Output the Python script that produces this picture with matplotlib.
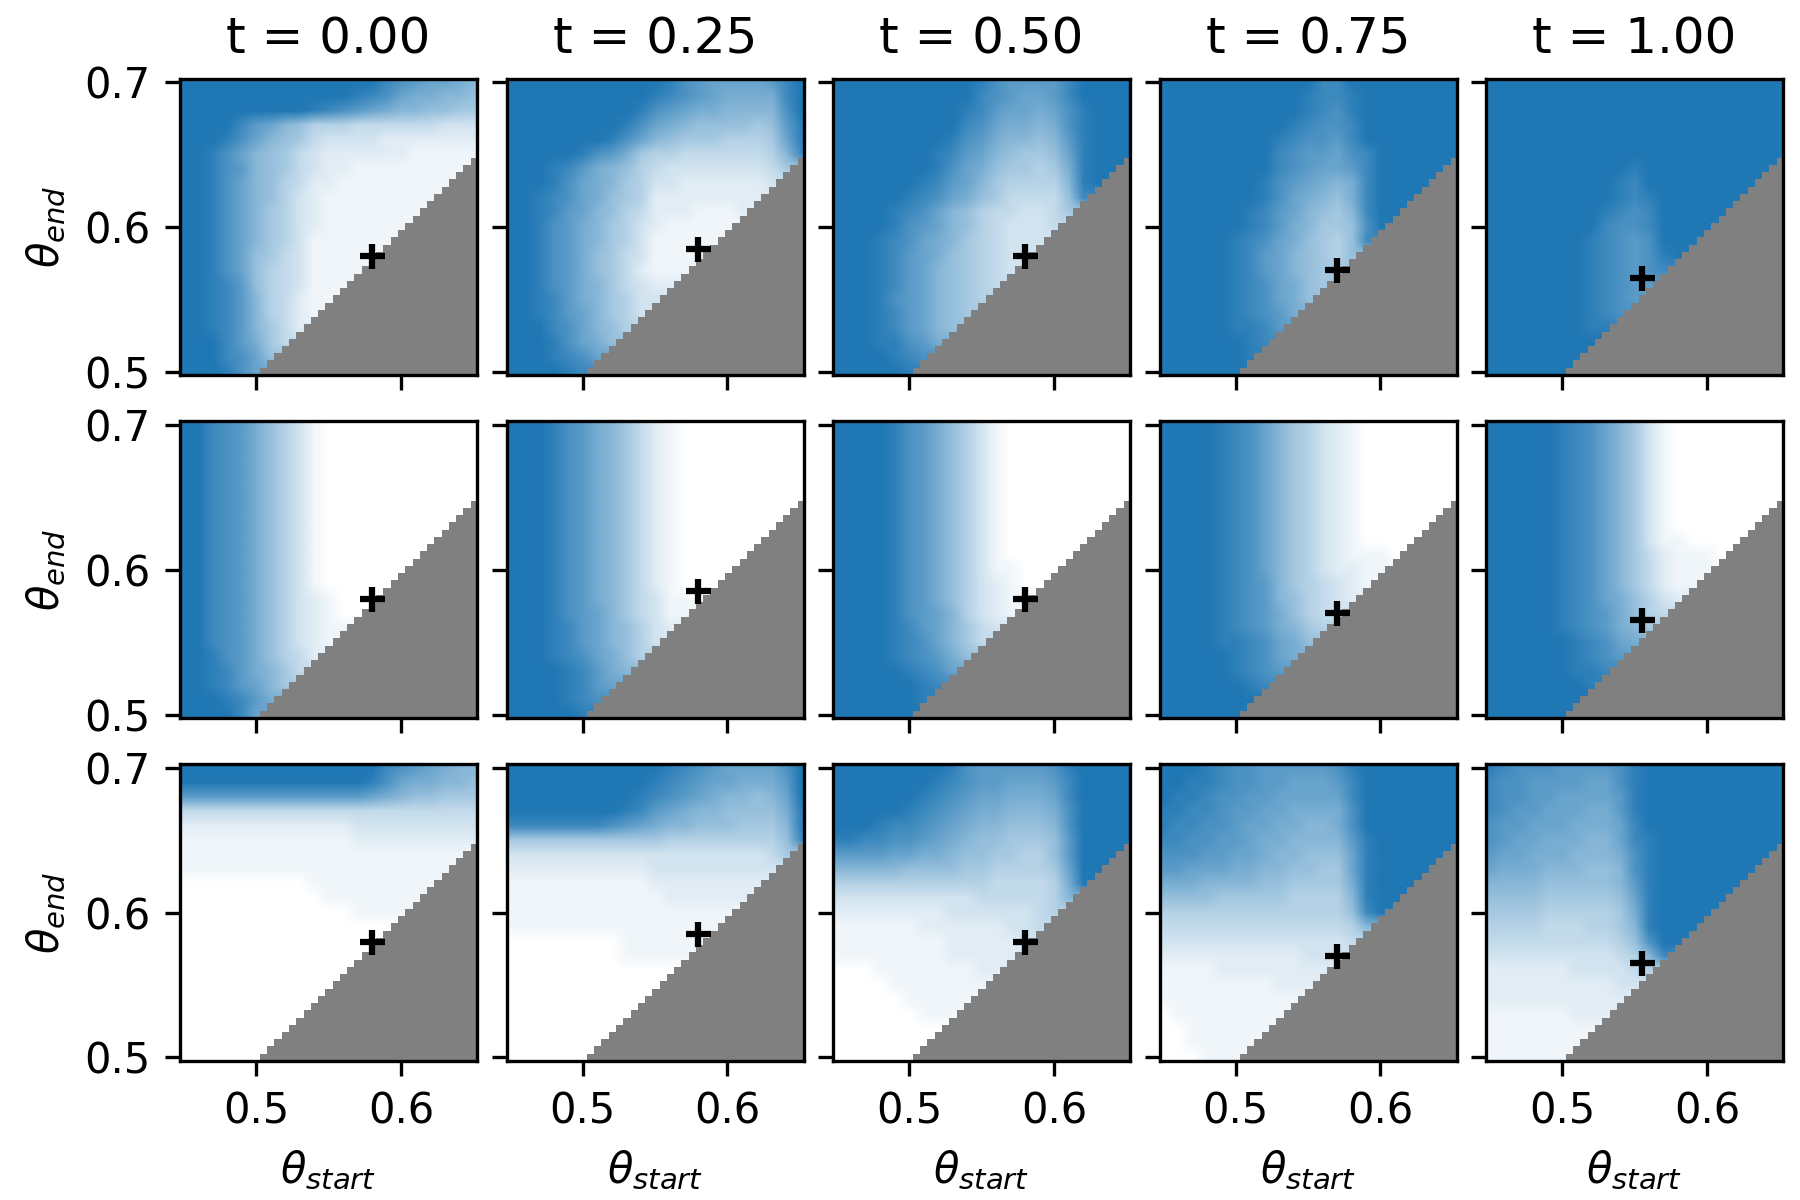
import numpy as np
import matplotlib
matplotlib.use("Agg")
import matplotlib.pyplot as plt
from matplotlib.colors import LinearSegmentedColormap, ListedColormap

t_labels = ["t = 0.00", "t = 0.25", "t = 0.50", "t = 0.75", "t = 1.00"]
x_ticks = [0.5, 0.6]
y_ticks = [0.5, 0.6, 0.7]
best_start = [0.58, 0.58, 0.58, 0.57, 0.555]
best_end = [0.58, 0.585, 0.58, 0.57, 0.565]

# Levels, 0 (white) to f (full blue), theta_end 0.70 down to 0.50
# in 0.01 steps, each row running from theta_start 0.45 up to the diagonal.
p11 = ["ffffffffffffffdcbaa98", "ffffffffffffedca99887", "fffffffffedcba9887766", "ffffdba87555444444333",
       "fffeca876433332222222", "ffeca8764322222211111", "ffecb876432211111111", "ffeca8754221111111",
       "ffeca87532" + "11111111", "ffeca86532" + "1111111", "ffeca86532" + "111111", "ffeca86531" + "11111",
       "ffeca76431" + "1111", "ffeca75431" + "111", "ffedb75431" + "11", "ffedb85421" + "1", "ffedb85421",
       "ffedb8642", "fffdb964", "fffdca7", "fffeca"]
p12 = ["fffffffffffecbaaaabdf", "ffffffffffedcba9999df", "fffffffffecba998888cf", "ffffffffeca98777767be",
       "fffffffeca876665556ae", "fffffecb965544444458d", "fffedb98754333333346", "fffeca9865332222223",
       "ffedca976522222222", "ffedba87542221112", "ffecb98653211111", "ffecb986531" + "1111", "ffecb97643" + "1111",
       "ffecb97642" + "111", "ffecb98643" + "22", "ffedb98653" + "3", "ffedba8653", "fffdca875", "fffeca97", "fffedca", "ffffed"]
p13 = ["ffffffffffecbbbbdffff", "ffffffffffdcbaabdffff", "fffffffffedbaa9acefff", "fffffffffdca9989cefff",
       "ffffffffecb98878befff", "fffffffedba87667aefff", "fffffffeca9766569eff", "ffffffedba8655558ef",
       "fffffedca97644447d", "ffffedca875443346", "ffffecba87543334", "fffedca98654333",
       "fffedba9765433", "fffedba876543", "fffedba87654", "fffecba8765", "fffedba876", "fffedba87",
       "fffeecb9", "ffffedc", "fffffe"]
p14 = ["fffffffffffddffffffff", "ffffffffffeddefffffff", "ffffffffffedcefffffff", "fffffffffedccdfffffff",
       "ffffffffedccbdfffffff", "ffffffffdcbbacdffffff", "ffffffffdcbaabdfffff", "fffffffecba989dffff",
       "fffffffeca9879dfff", "ffffffedba8768dff", "ffffffedb98667cf", "fffffedca97657d", "fffffedba87657",
       "fffffedba8766", "fffffedca976", "fffffedca97", "fffffedcb9", "fffffeedb", "ffffffed", "ffffffe", "ffffff"]
p15 = ["f" * 21, "f" * 21, "f" * 21, "f" * 21, "f" * 21, "f" * 21, "ffffffffffefffffffff", "fffffffffedffffffff",
       "fffffffffedeffffff", "ffffffffedcdfffff", "ffffffffdccdffff", "fffffffedcbcfff", "fffffffedcbcef",
       "fffffffedcbcd", "fffffffedcbb", "fffffffedcb", "fffffffedc", "fffffffee", "ffffffff", "fffffff", "ffffff"]
p21 = ["ffdcb97531" + "0" * 11] * 6 + ["ffdcb97531" + "0" * 10, "ffdcb97531" + "0" * 9, "ffdcb97531" + "0" * 8,
       "ffdcb97531" + "0" * 7, "ffdcb97531" + "0" * 6, "ffdcb97531" + "0" * 5, "ffdcb97532" + "1000", "ffdcb97532" + "100",
       "ffdcb97532" + "11", "ffdcb97532" + "1", "ffecb97542", "ffedb9864", "ffedba86", "fffedb9", "ffffda"]
p22 = ["fffecb986421" + "0" * 9] * 6 + ["fffecb986421" + "0" * 8, "fffecb986421" + "0" * 7, "fffecb986421" + "0" * 6,
       "fffecb986421" + "0" * 5, "fffecb986421" + "0000", "fffecb986421" + "000", "fffecb986431" + "10", "fffecba86431" + "1",
       "fffedba87532", "fffedba8753", "fffedca975", "ffffedb98", "ffffedba", "ffffedc", "fffffe"]
p23 = ["ffffecb97531" + "0" * 9] * 6 + ["ffffecb97531" + "0" * 8, "ffffecb97531" + "0" * 7, "ffffecb97531" + "0" * 6,
       "ffffecb97531" + "0" * 5, "ffffecb97531" + "1000", "ffffecb97532" + "100", "ffffecb97532" + "11", "ffffecba8532" + "1",
       "ffffedba8643", "ffffedca864", "ffffedcb97", "fffffedca", "ffffffed", "ffffffe", "ffffff"]
p24 = ["ffffedca865321" + "0" * 7] * 6 + ["ffffedca865321" + "0" * 6, "ffffedca865321" + "0" * 5, "ffffedca865321" + "0000",
       "ffffedca865321" + "110", "ffffedca865322" + "11", "ffffedcb865432" + "1", "ffffedcb875432", "ffffedcb97543",
       "ffffedcb9865", "ffffeedca97", "fffffedca9", "fffffedcb", "ffffffed", "fffffff", "ffffff"]
p25 = ["fffffedca8631" + "0" * 8] * 6 + ["fffffedca8631" + "0" * 7, "fffffedca8631" + "0" * 6, "fffffedca8631" + "10000",
       "fffffedca8642" + "1110", "fffffedca8642" + "111", "fffffedca8642" + "11", "fffffedca97532", "fffffedcb9754",
       "fffffedcb986", "ffffffedca9", "ffffffedcb", "ffffffeed", "fffffffe", "fffffff", "ffffff"]
p31 = ["f" * 14 + "dcba988", "f" * 13 + "eca99887", "b" * 12 + "ba9877666", "4" * 17 + "4444", "2" * 12 + "3" * 9,
       "1" * 12 + "2" * 9, "1" * 20, "1" * 19, "0" * 9 + "1" * 9, "0" * 10 + "1" * 7, "0" * 12 + "1" * 4, "0" * 15, "0" * 14,
       "0" * 13, "0" * 12, "0" * 11, "0" * 10, "0" * 9, "0" * 8, "0" * 7, "0" * 6]
p32 = ["f" * 11 + "edcbaaaacf", "f" * 10 + "edcbaa999bf", "f" * 9 + "edcba98878af", "f" * 8 + "edba98877779e",
       "ddddd" + "ddcba9887776668e", "6" * 11 + "5" * 8 + "7d", "3" * 18 + "46", "2" * 10 + "3" * 9,
       "1" * 10 + "2" * 8, "1" * 11 + "2" * 6, "1" * 16, "1" * 15, "0" * 8 + "1" * 6, "0" * 8 + "1" * 5, "0" * 12, "0" * 11,
       "0" * 10, "0" * 9, "0" * 8, "0" * 7, "0" * 6]
p33 = ["f" * 8 + "ecbbbbbce" + "ffff", "f" * 7 + "edcbbaaabd" + "ffff", "f" * 6 + "edcbaa999ad" + "ffff", "f" * 5 + "edcba998889c" + "ffff",
       "fff" + "eddcba9887778c" + "ffff", "eeddccba98776667b" + "ffff", "bbbbaa9987766557bfff",
       "8888877776655556aff", "5" * 11 + "444459f", "3" * 10 + "4" * 5 + "58", "2" * 8 + "3" * 6 + "45",
       "1" * 6 + "2" * 6 + "334", "1" * 8 + "2" * 5 + "3", "1" * 8 + "2" * 5, "000" + "1" * 7 + "22", "0000" + "1" * 7, "00000" + "1" * 5,
       "000000111", "0" * 8, "0" * 7, "0" * 6]
p34 = ["fffedccbbbbbce" + "f" * 7, "ffeedccbbaaabd" + "f" * 7, "feedccbbaaaaad" + "f" * 7, "eeddcbbaa9999c" + "f" * 7,
       "eddccbaa99889c" + "f" * 7, "ddccbba998888be" + "f" * 6, "cccbbaa988777ae" + "f" * 5, "bbaaa99887766ae" + "f" * 4,
       "99988887766669e" + "fff", "77776666655558e" + "ff", "5" * 13 + "7df", "4" * 13 + "58", "3" * 13 + "4",
       "2" * 10 + "333", "1111" + "2" * 8, "1" * 8 + "222", "1" * 10, "011111111", "00111111", "0011111", "000111"]
p35 = ["edcccbbbbce" + "f" * 10, "dccbbbbaace" + "f" * 10, "dccbbaaaabe" + "f" * 10, "dcbbaaa99be" + "f" * 10,
       "cbbaaa999ad" + "f" * 10, "cbaa99988ade" + "f" * 9, "baa9998889ce" + "f" * 8, "a999888778ce" + "f" * 7,
       "8888777778be" + "f" * 6, "7777666667ae" + "f" * 5, "66665555569e" + "ffff", "555544455" + "68efff",
       "44444444457cff", "3333333334" + "58d", "222222333345", "22222222233", "2" * 10, "111111222", "1" * 8, "1" * 7, "1" * 6]
panels = [[p11, p12, p13, p14, p15], [p21, p22, p23, p24, p25], [p31, p32, p33, p34, p35]]

cmap = LinearSegmentedColormap.from_list("wb", ["#ffffff", "#1f77b4"])
gray_map = ListedColormap(["#808080"])


def to_levels(rows):
    coarse = np.zeros((21, 21))
    for r, row in enumerate(rows):
        vals = [int(ch, 16) / 15 for ch in row[:21]]
        vals += [vals[-1]] * (21 - len(vals))
        coarse[r] = vals
    return coarse


# Start above end is undefined: 0.45 + 0.005 i > 0.70 - 0.005 k
ii, kk = np.meshgrid(np.arange(41), np.arange(41))
undefined = np.ma.masked_where(ii - 10 <= 40 - kk, np.ones((41, 41)))

fig, axes = plt.subplots(3, 5, figsize=(6, 4), sharex=True, sharey=True)
fig.subplots_adjust(left=0.1, right=0.9906, top=1 - 78.5 / 1200, bottom=1 - 1061 / 1200,
                    wspace=0.0993, hspace=0.155)
for i, row in enumerate(panels):
    for j, rows in enumerate(row):
        ax = axes[i, j]
        ax.imshow(to_levels(rows), cmap=cmap, vmin=0, vmax=1, aspect="auto", origin="upper",
                  interpolation="bilinear", extent=(0.445, 0.655, 0.495, 0.705))
        ax.imshow(undefined, cmap=gray_map, aspect="auto", origin="upper",
                  interpolation="nearest", extent=(0.4475, 0.6525, 0.4975, 0.7025))
        ax.plot(best_start[j], best_end[j], "+", color="k", ms=6, mew=1.5)
        ax.set_xlim(0.4475, 0.6525)
        ax.set_ylim(0.4975, 0.7025)
        ax.set_xticks(x_ticks)
        ax.set_yticks(y_ticks)
        ax.tick_params(labelsize=10)
        if i == 0:
            ax.set_title(t_labels[j], fontsize=12)
        if i == 2:
            ax.set_xlabel(r"$\theta_{start}$", fontsize=10)
        if j == 0:
            ax.set_ylabel(r"$\theta_{end}$", fontsize=10)
fig.savefig("out.png", dpi=300)
